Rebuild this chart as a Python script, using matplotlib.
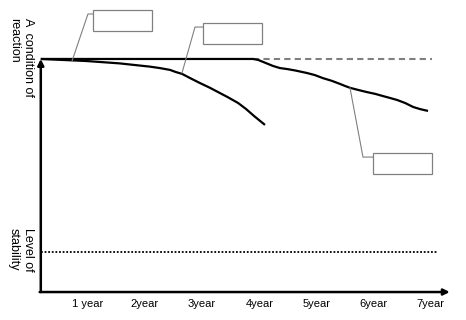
import matplotlib
matplotlib.use("Agg")
import matplotlib.pyplot as plt
from matplotlib.patches import Rectangle

plt.rcParams['font.family'] = ['Liberation Sans', 'DejaVu Sans']

# data (x in years, y in condition level; 100 = reaction, 0 = axis)
years = [1, 2, 3, 4, 5, 6, 7]
year_labels = ["1 year", "2year", "3year", "4year", "5year", "6year", "7year"]

curve1_x = [0.18, 0.99, 1.56, 2.09, 2.26, 2.44, 2.54, 2.65, 2.79, 2.96,
            3.14, 3.31, 3.45, 3.63, 3.77, 3.91, 4.10]
curve1_y = [100, 99.1, 98.1, 96.7, 96.1, 95.3, 94.4, 93.6, 91.8, 89.7,
            87.6, 85.4, 83.6, 81.1, 78.5, 75.5, 71.7]

curve2_x = [0.18, 3.89, 3.98, 4.07, 4.15, 4.24, 4.36, 4.48, 4.62, 4.83,
            4.97, 5.11, 5.27, 5.41, 5.50, 5.59, 5.73, 5.88, 6.03, 6.16,
            6.28, 6.41, 6.55, 6.69, 6.81, 6.95]
curve2_y = [100, 100, 99.6, 98.7, 97.9, 97.0, 96.1, 95.7, 95.1, 94.0,
            93.1, 91.8, 90.6, 89.3, 88.4, 87.6, 86.7, 85.8, 85.0, 84.1,
            83.3, 82.4, 81.1, 79.4, 78.5, 77.7]

reaction_level = 100
reaction_x = [3.89, 7.02]
stability_level = 17.2
stability_x = [0.18, 7.12]

fig = plt.figure(figsize=(4.66, 3.2), dpi=100)
ax = fig.add_axes([0, 0, 1, 1])
ax.set_xlim(-0.533, 7.614)
ax.set_ylim(-12.0, 125.3)
ax.axis('off')

x0 = 0.18
# axes with arrows
ax.annotate("", xy=(x0, reaction_level), xytext=(x0, 0),
            arrowprops=dict(arrowstyle='-|>', color='black', lw=1.8,
                            mutation_scale=9, shrinkA=0, shrinkB=0))
ax.annotate("", xy=(7.33, 0), xytext=(x0 - 0.02, 0),
            arrowprops=dict(arrowstyle='-|>', color='black', lw=1.8,
                            mutation_scale=9, shrinkA=0, shrinkB=0))

# reference levels
ax.plot(reaction_x, [reaction_level] * 2, color='#7f7f7f', lw=1.5,
        dashes=(3, 2))
ax.plot(stability_x, [stability_level] * 2, color='black', lw=1.3,
        dashes=(1, 1))

# curves
ax.plot(curve2_x, curve2_y, color='black', lw=1.6, solid_capstyle='butt',
        solid_joinstyle='round')
ax.plot(curve1_x, curve1_y, color='black', lw=1.6, solid_capstyle='butt',
        solid_joinstyle='round')

# callout boxes
gray = '#808080'
boxes = [(1.094, 112.0, 1.03, 9.0), (3.016, 106.4, 1.03, 9.1), (5.988, 50.6, 1.03, 9.1)]
for bx, by, bw, bh in boxes:
    ax.add_patch(Rectangle((bx, by), bw, bh, fill=False, ec=gray, lw=0.9))
ax.plot([1.094, 1.005, 0.726], [119.3, 119.3, 99.1], color=gray, lw=0.8)
ax.plot([3.016, 2.876, 2.649], [113.7, 113.7, 94.0], color=gray, lw=0.8)
ax.plot([5.586, 5.813, 5.988], [87.6, 57.9, 57.9], color=gray, lw=0.8)

# tick labels
for x, lab in zip(years, year_labels):
    ax.text(x, -5.2, lab, ha='center', va='center', fontsize=8)

# axis labels
fig.text(8 / 466, 1 - 18 / 320, "A  condition of\nreaction", rotation=270,
         ha='left', va='top', fontsize=9, multialignment='left')
fig.text(8 / 466, 1 - 228 / 320, "Level of\nstability", rotation=270,
         ha='left', va='top', fontsize=9, multialignment='left')

fig.savefig("out.png", dpi=100)
